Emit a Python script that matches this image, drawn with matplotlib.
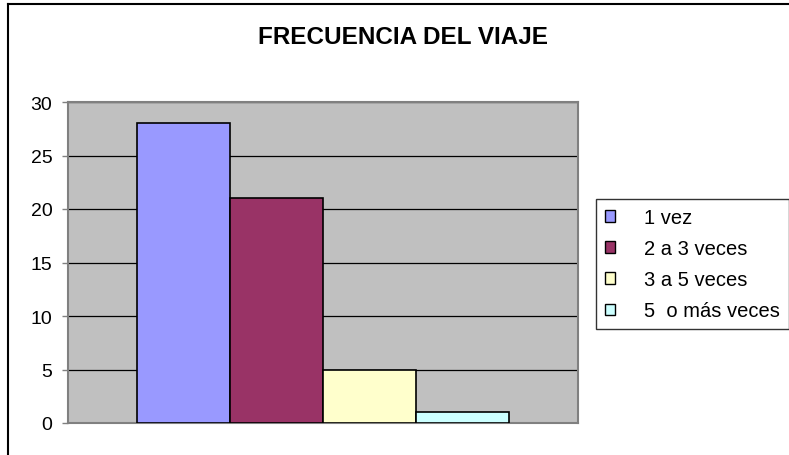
import matplotlib
matplotlib.use("Agg")
import matplotlib.pyplot as plt
from matplotlib.lines import Line2D
from matplotlib.patches import Patch

title = "FRECUENCIA DEL VIAJE"
categories = ["1 vez", "2 a 3 veces", "3 a 5 veces", "5  o más veces"]
values = [28, 21, 5, 1]
colors = ["#9999FF", "#993366", "#FFFFCC", "#CCFFFF"]
yticks = [0, 5, 10, 15, 20, 25, 30]

W, H = 789, 456
fig = plt.figure(figsize=(W / 100, H / 100), dpi=100)
plt.rcParams['font.family'] = ['Liberation Sans', 'DejaVu Sans']

# outer chart border (left and top visible)
fig.add_artist(Line2D([8 / W, 8 / W], [-0.1, 1 - 5 / H], transform=fig.transFigure, color="black", lw=1.5))
fig.add_artist(Line2D([8 / W, 1.1], [1 - 5 / H, 1 - 5 / H], transform=fig.transFigure, color="black", lw=1.5))

ax = fig.add_axes([68 / W, 32 / H, 510 / W, 321 / H])
ax.set_facecolor("#C0C0C0")
for s in ax.spines.values():
    s.set_color("#808080")
    s.set_linewidth(1.5)

n = len(values)
w = 93 / 510
xs = [(i - (n - 1) / 2) * w for i in range(n)]
bars = ax.bar(xs, values, width=w, color=colors, edgecolor="black", linewidth=1.2, zorder=3)
ax.set_xlim(-0.5, 0.5)
ax.set_ylim(0, 30)
ax.set_yticks(yticks)
ax.set_xticks([])
ax.yaxis.grid(True, color="black", linewidth=0.9, zorder=1)
ax.set_axisbelow(True)
ax.tick_params(axis="y", length=4.3, width=1, color="#808080", labelsize=14, pad=7)

fig.text(403 / W, 1 - 38 / H, title, ha="center", va="center", fontsize=17.5, fontweight="bold")

handles = [Patch(facecolor=c, edgecolor="black", linewidth=1) for c in colors]
leg = fig.legend(handles, categories, loc="upper left", bbox_to_anchor=(596 / W, 1 - 200 / H),
                 frameon=True, fancybox=False, edgecolor="black", fontsize=14.5,
                 handlelength=0.48, handleheight=0.48, handletextpad=1.45,
                 labelspacing=0.6, borderpad=0.45, borderaxespad=0)
leg.get_frame().set_linewidth(1.0)

fig.savefig("out.png", dpi=100)
